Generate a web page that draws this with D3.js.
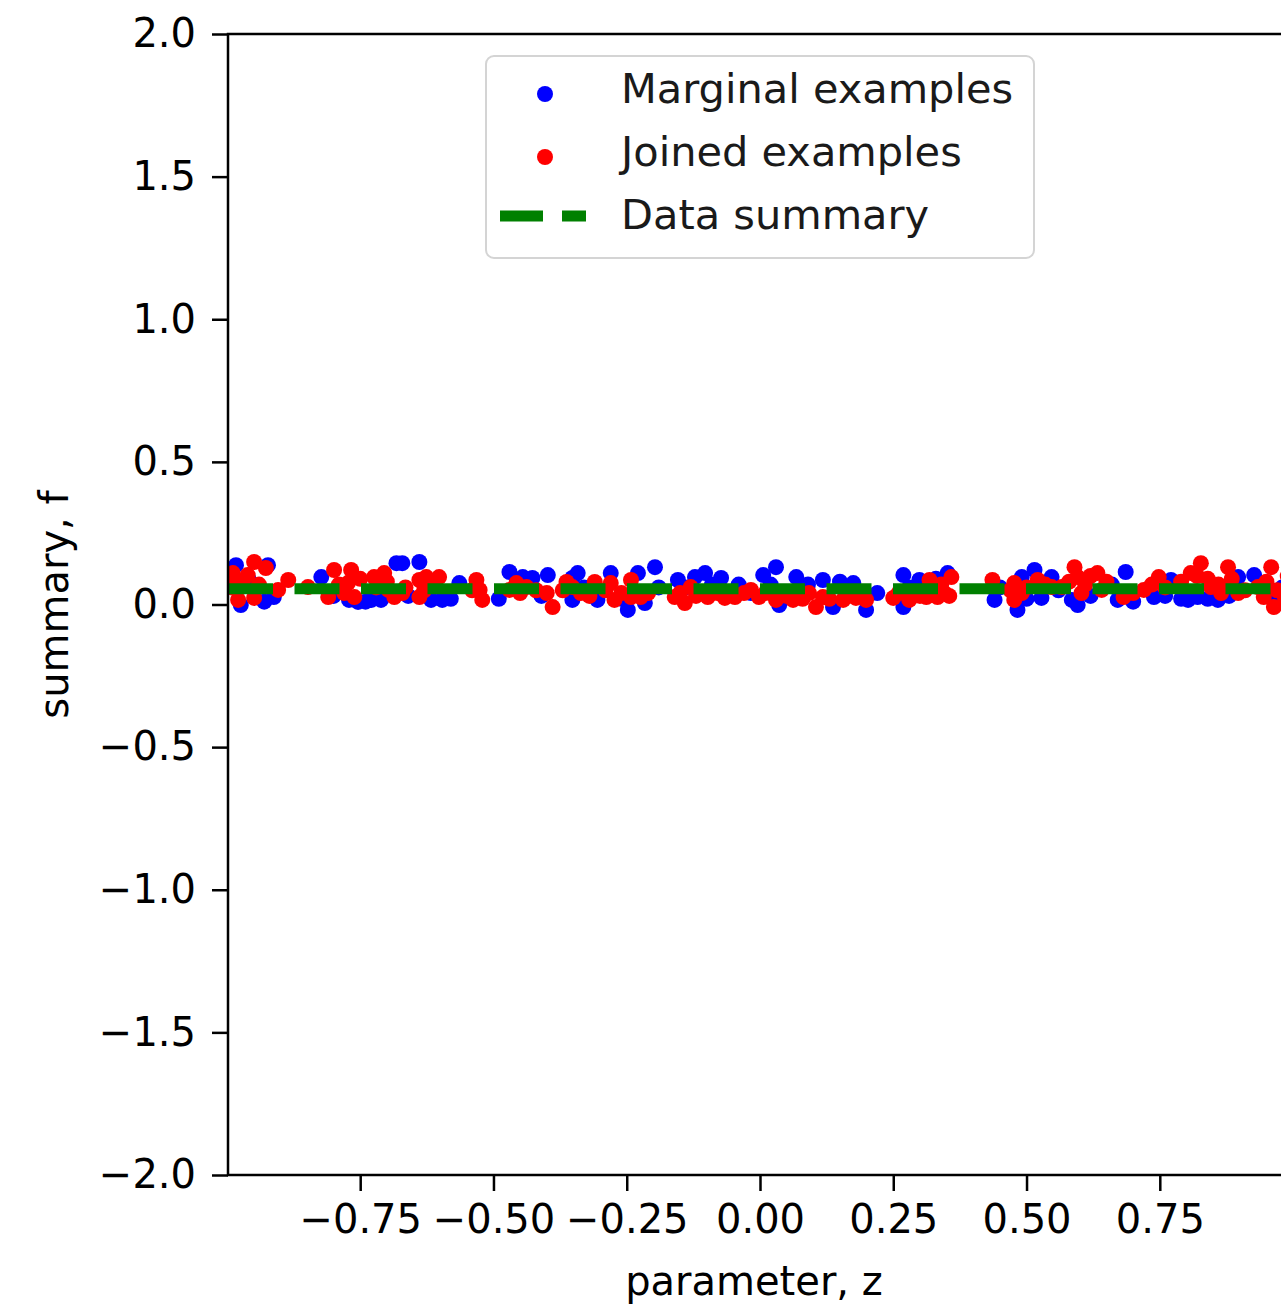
<!DOCTYPE html>
<html>
<head>
<meta charset="utf-8">
<script src="https://cdn.jsdelivr.net/npm/d3@7"></script>
<style>
  html, body { margin: 0; padding: 0; background: #fff; }
  svg { display: block; font-family: "DejaVu Sans", sans-serif; }
</style>
</head>
<body>
<div id="chart"></div>
<script>
/* summary vs parameter scatter */

const marginalZ = [-0.983,-0.974,-0.923,-0.912,-0.823,-0.771,-0.754,-0.729,-0.711,-0.682,-0.671,-0.639,-0.617,-0.596,-0.564,
  -0.470,-0.445,-0.427,-0.398,-0.352,-0.352,-0.342,-0.280,-0.305,-0.248,-0.229,-0.216,-0.197,-0.154,-0.122,-0.103,-0.073,-0.017,
  0.030,0.006,0.068,0.118,0.175,0.199,0.036,0.137,0.269,0.299,0.269,0.352,0.440,0.483,0.491,0.515,0.528,0.547,0.585,0.596,
  0.686,0.671,0.739,0.771,0.803,0.821,0.859,0.897,0.927,0.959,
  -0.96,-0.93,-0.80,-0.74,-0.66,-0.58,-0.49,-0.41,-0.33,-0.26,-0.19,-0.14,-0.09,-0.04,0.02,0.09,
  0.15,0.22,0.28,0.33,0.45,0.50,0.56,0.62,0.66,0.70,0.76,0.79,0.84,0.88,0.94,0.98];
const marginalF = [0.138,-0.002,0.138,0.026,0.096,0.016,0.009,0.016,0.016,0.145,0.145,0.149,0.016,0.016,0.075,
  0.114,0.096,0.093,0.103,0.093,0.016,0.110,0.110,0.016,-0.019,0.110,0.005,0.131,0.086,0.096,0.110,0.093,0.040,
  0.131,0.103,0.096,0.086,0.075,-0.019,-0.002,-0.009,0.103,0.086,-0.009,0.110,0.016,-0.019,0.096,0.121,0.023,0.096,0.016,-0.002,
  0.114,0.016,0.026,0.086,0.016,0.026,0.016,0.096,0.103,0.026,
  0.09,0.01,0.03,0.01,0.03,0.02,0.02,0.03,0.06,0.02,0.06,0.06,0.07,0.07,0.07,0.07,
  0.08,0.04,0.06,0.09,0.06,0.02,0.05,0.03,0.07,0.01,0.03,0.02,0.02,0.03,0.07,0.06];

const joinedZ = [-0.989,-0.949,-0.961,-0.927,-0.979,-0.949,-0.904,-0.885,-0.848,-0.799,-0.810,-0.767,-0.773,-0.761,-0.724,-0.705,
  -0.697,-0.686,-0.671,-0.639,-0.626,-0.602,-0.639,-0.532,-0.521,-0.526,-0.470,-0.457,-0.438,-0.400,-0.389,-0.363,-0.352,
  -0.336,-0.310,-0.280,-0.273,-0.242,-0.242,-0.224,-0.160,-0.141,-0.130,-0.098,-0.066,-0.047,-0.017,
  -0.002,0.030,0.062,0.092,0.105,0.118,0.156,0.180,0.199,0.250,0.280,0.318,0.312,
  0.333,0.359,0.346,0.436,0.477,0.477,0.491,0.521,0.547,0.566,0.590,0.596,0.603,0.633,0.641,
  0.682,0.720,0.748,0.808,0.827,0.846,0.878,0.865,0.897,0.934,0.959,0.964,0.945,0.990,0.985,
  -0.99,-0.97,-0.94,-0.79,-0.78,-0.75,-0.72,-0.70,-0.665,-0.63,-0.61,-0.54,-0.45,-0.42,-0.37,-0.32,-0.29,-0.26,
  -0.21,-0.15,-0.12,-0.08,-0.03,0.01,0.05,0.08,0.13,0.17,0.19,0.26,0.30,0.325,0.34,0.355,
  0.47,0.50,0.535,0.58,0.61,0.62,0.65,0.70,0.735,0.76,0.79,0.82,0.84,0.86,0.885,0.91,0.95,0.97];
const joinedF = [0.110,0.149,0.103,0.128,0.016,0.023,0.051,0.086,0.061,0.121,0.026,0.121,0.075,0.026,0.096,0.110,
  0.051,0.026,0.040,0.086,0.096,0.096,0.026,0.086,0.016,0.051,0.051,0.075,0.061,0.040,-0.009,0.079,0.061,
  0.040,0.079,0.075,0.016,0.086,0.026,0.026,0.026,0.005,0.061,0.026,0.023,0.026,0.051,
  0.026,0.016,0.016,0.040,-0.009,0.026,0.016,0.023,0.016,0.023,0.016,0.086,0.026,
  0.026,0.096,0.040,0.086,0.075,0.016,0.040,0.086,0.061,0.061,0.131,0.096,0.040,0.110,0.051,
  0.026,0.051,0.096,0.110,0.145,0.061,0.131,0.040,0.040,0.061,0.131,-0.009,0.026,0.100,0.020,
  0.06,0.08,0.07,0.07,0.04,0.09,0.06,0.08,0.06,0.05,0.07,0.05,0.04,0.05,0.05,0.03,0.05,0.04,
  0.04,0.04,0.03,0.04,0.04,0.04,0.03,0.02,0.02,0.04,0.03,0.04,0.03,0.05,0.07,0.03,
  0.05,0.06,0.07,0.08,0.07,0.10,0.08,0.04,0.07,0.06,0.08,0.10,0.09,0.07,0.09,0.05,0.08,0.05];

const summaryZ = [-0.998, 0.998];
const summaryF = [0.055, 0.055];

const xTicks = [-0.75, -0.5, -0.25, 0, 0.25, 0.5, 0.75];
const yTicks = [-2, -1.5, -1, -0.5, 0, 0.5, 1, 1.5, 2];

const W = 1281, H = 1306;
const M = { left: 228, top: 34, right: 1292, bottom: 1175 };
const FONT = 40;
const R = 8;

const fmtX = v => d3.format('.2f')(v).replace('-', '\u2212');
const fmtY = v => d3.format('.1f')(v).replace('-', '\u2212');

function render() {
  const svg = d3.select('#chart').append('svg')
    .attr('width', W).attr('height', H);

  const x = d3.scaleLinear().domain([-0.998, 0.998]).range([M.left, M.right]);
  const y = d3.scaleLinear().domain([-2, 2]).range([M.bottom, M.top]);

  svg.append('clipPath').attr('id', 'plot')
    .append('rect')
    .attr('x', M.left).attr('y', M.top)
    .attr('width', M.right - M.left).attr('height', M.bottom - M.top);

  const plot = svg.append('g').attr('clip-path', 'url(#plot)');

  plot.append('g').selectAll('circle')
    .data(d3.zip(marginalZ, marginalF))
    .join('circle')
    .attr('cx', d => x(d[0])).attr('cy', d => y(d[1]))
    .attr('r', R).attr('fill', '#0000ff');

  plot.append('g').selectAll('circle')
    .data(d3.zip(joinedZ, joinedF))
    .join('circle')
    .attr('cx', d => x(d[0])).attr('cy', d => y(d[1]))
    .attr('r', R).attr('fill', '#ff0000');

  const line = d3.line().x(d => x(d[0])).y(d => y(d[1]));
  plot.append('path')
    .datum(d3.zip(summaryZ, summaryF))
    .attr('d', line)
    .attr('fill', 'none')
    .attr('stroke', '#008000')
    .attr('stroke-width', 11)
    .attr('stroke-dasharray', '45,21.5');

  // axes
  const xAxis = d3.axisBottom(x).tickValues(xTicks).tickFormat(fmtX)
    .tickSizeInner(16).tickSizeOuter(0).tickPadding(14);
  const yAxis = d3.axisLeft(y).tickValues(yTicks).tickFormat(fmtY)
    .tickSizeInner(16).tickSizeOuter(0).tickPadding(16);

  const gx = svg.append('g').attr('transform', `translate(0,${M.bottom})`).call(xAxis);
  const gy = svg.append('g').attr('transform', `translate(${M.left},0)`).call(yAxis);
  [gx, gy].forEach(g => {
    g.select('.domain').remove();
    g.selectAll('line').attr('stroke', '#000').attr('stroke-width', 2.5);
    g.selectAll('text').attr('font-size', FONT).attr('fill', '#000')
      .attr('font-family', '"DejaVu Sans", sans-serif');
  });

  // spines
  svg.append('rect')
    .attr('x', M.left).attr('y', M.top)
    .attr('width', M.right - M.left).attr('height', M.bottom - M.top)
    .attr('fill', 'none').attr('stroke', '#000').attr('stroke-width', 2.5);

  svg.append('text')
    .attr('x', (M.left + M.right) / 2 - 6).attr('y', 1295)
    .attr('text-anchor', 'middle').attr('font-size', FONT)
    .text('parameter, z');

  svg.append('text')
    .attr('transform', `translate(68,${(M.top + M.bottom) / 2}) rotate(-90)`)
    .attr('text-anchor', 'middle').attr('font-size', FONT)
    .text('summary, f');

  // legend
  const leg = svg.append('g');
  leg.append('rect')
    .attr('x', 486).attr('y', 56).attr('width', 548).attr('height', 202)
    .attr('rx', 8).attr('fill', '#fff').attr('fill-opacity', 0.8)
    .attr('stroke', '#d4d4d4').attr('stroke-width', 2);

  const items = [
    { label: 'Marginal examples', type: 'dot', color: '#0000ff', cy: 94, ty: 103 },
    { label: 'Joined examples', type: 'dot', color: '#ff0000', cy: 157, ty: 166 },
    { label: 'Data summary', type: 'line', color: '#008000', cy: 216, ty: 229 },
  ];
  items.forEach(it => {
    if (it.type === 'dot') {
      leg.append('circle').attr('cx', 545).attr('cy', it.cy).attr('r', R).attr('fill', it.color);
    } else {
      leg.append('line').attr('x1', 500).attr('x2', 586).attr('y1', it.cy).attr('y2', it.cy)
        .attr('stroke', it.color).attr('stroke-width', 11).attr('stroke-dasharray', '43,19');
    }
    leg.append('text').attr('x', 621).attr('y', it.ty)
      .attr('font-size', 41.5).attr('fill', '#1a1a1a')
      .text(it.label);
  });
}

render();
</script>
</body>
</html>
